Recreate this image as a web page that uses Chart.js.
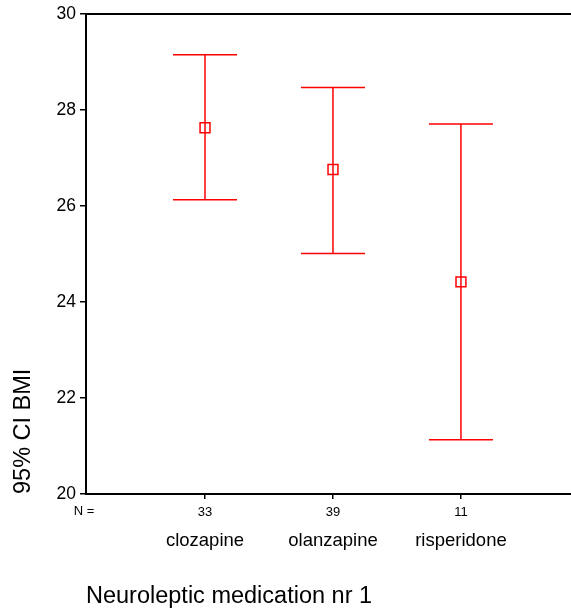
<!DOCTYPE html>
<html>
<head>
<meta charset="utf-8">
<script src="https://cdn.jsdelivr.net/npm/chart.js@4/dist/chart.umd.min.js"></script>
<style>
html,body{margin:0;padding:0;background:#fff;}
#wrap{width:571px;height:611px;}
</style>
</head>
<body>
<div id="wrap"><canvas id="ciChart" width="571" height="611"></canvas></div>
<script>
const categories = ["clozapine", "olanzapine", "risperidone"]
const nValues = ["33", "39", "11"]
const means = [27.63, 26.76, 24.42]
const lower = [26.13, 25.01, 21.13]
const upper = [29.15, 28.47, 27.71]
const yTicks = [20, 22, 24, 26, 28, 30]

const FONT = "Arial, 'Liberation Sans', sans-serif"
const RED = "#ff0000"

const xMin = -0.93
const xMax = 2.86

const catTicks = scale => { scale.ticks = categories.map((c, i) => ({ value: i })) }

// no extra room around the scales, the box is set by hand
const noPad = s => { s.paddingLeft = 0; s.paddingRight = 0; s.paddingTop = 0; s.paddingBottom = 0 }

// one line per category for the whisker
const whiskers = categories.map((c, i) => ({
  type: "line",
  data: [{ x: i, y: lower[i] }, { x: i, y: upper[i] }],
  borderColor: RED,
  borderWidth: 1.5,
  pointRadius: 0,
  order: 3
}))

const nLabel = {
  id: "nLabel",
  afterDraw(chart) {
    const c = chart.ctx
    c.save()
    c.font = "13px " + FONT
    c.fillStyle = "#000"
    c.textAlign = "center"
    c.textBaseline = "middle"
    c.fillText("N =", 84, chart.scales.x.top + 17)
    c.restore()
  }
}

new Chart(document.getElementById("ciChart"), {
  type: "scatter",
  data: {
    datasets: [
      {
        data: means.map((m, i) => ({ x: i, y: m })),
        pointStyle: "rect",
        pointRadius: 7,
        pointHoverRadius: 7,
        pointBackgroundColor: "rgba(0,0,0,0)",
        pointBorderColor: RED,
        pointBorderWidth: 1.5,
        order: 0
      },
      {
        data: lower.map((v, i) => ({ x: i, y: v })).concat(upper.map((v, i) => ({ x: i, y: v }))),
        pointStyle: "line",
        pointRadius: 32,
        pointHoverRadius: 32,
        pointBorderColor: RED,
        pointBorderWidth: 1.5,
        order: 1
      },
      ...whiskers
    ]
  },
  options: {
    responsive: false,
    animation: false,
    layout: { padding: 0, autoPadding: false },
    plugins: { legend: { display: false }, tooltip: { enabled: false } },
    scales: {
      xTop: {
        type: "linear",
        position: "top",
        min: xMin,
        max: xMax,
        ticks: { display: false },
        grid: { display: false, drawTicks: false },
        border: { display: true, color: "#000", width: 2 },
        afterFit: s => { s.height = 14; noPad(s) }
      },
      x: {
        type: "linear",
        position: "bottom",
        min: xMin,
        max: xMax,
        afterBuildTicks: catTicks,
        ticks: {
          font: { family: FONT, size: 13 },
          color: "#000",
          padding: 6,
          maxRotation: 0,
          callback: v => nValues[v]
        },
        grid: { drawOnChartArea: false, tickLength: 5, color: "#000", lineWidth: 1.5 },
        border: { display: true, color: "#000", width: 2 },
        afterFit: s => { s.height = 30; noPad(s) }
      },
      xCat: {
        type: "linear",
        position: "bottom",
        min: xMin,
        max: xMax,
        afterBuildTicks: catTicks,
        ticks: {
          font: { family: FONT, size: 18.5 },
          color: "#000",
          padding: 6,
          maxRotation: 0,
          callback: v => categories[v]
        },
        grid: { display: false, drawTicks: false },
        border: { display: false },
        title: {
          display: true,
          text: "Neuroleptic medication nr 1",
          align: "start",
          font: { family: FONT, size: 23.5 },
          color: "#000",
          padding: { top: 32, bottom: 0 }
        },
        afterFit: s => { s.height = 87; noPad(s) }
      },
      y: {
        min: 20,
        max: 30,
        afterBuildTicks: s => { s.ticks = yTicks.map(v => ({ value: v })) },
        ticks: {
          font: { family: FONT, size: 17.5 },
          color: "#000",
          padding: 4
        },
        grid: { drawOnChartArea: false, tickLength: 6, color: "#000", lineWidth: 1.5 },
        border: { display: true, color: "#000", width: 2 },
        title: {
          display: true,
          text: "95% CI BMI",
          align: "start",
          font: { family: FONT, size: 23.5 },
          color: "#000",
          padding: { top: 9 }
        },
        afterFit: s => { s.width = 86; noPad(s) }
      }
    }
  },
  plugins: [nLabel]
})
</script>
</body>
</html>
